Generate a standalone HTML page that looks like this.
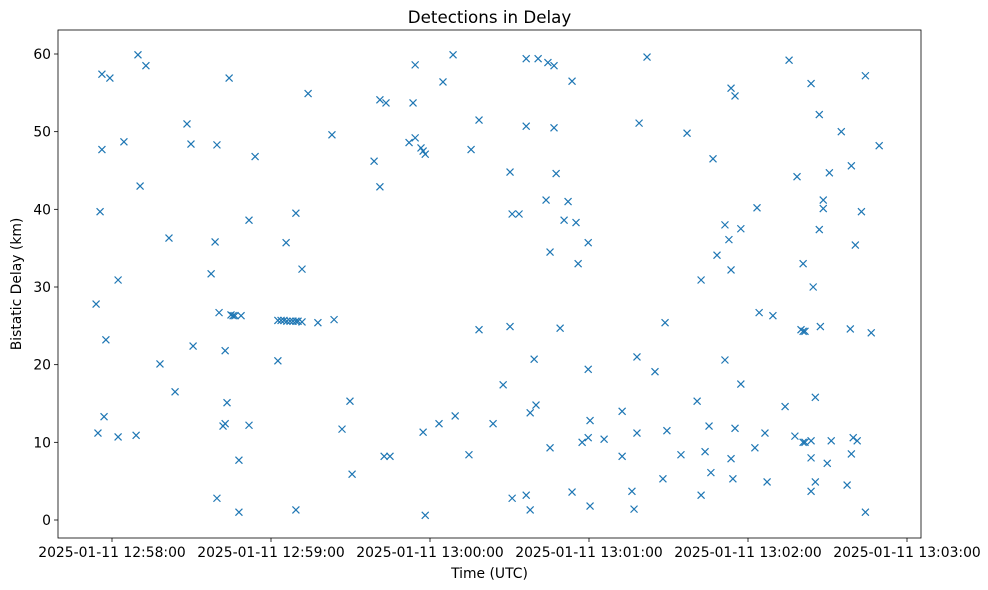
<!DOCTYPE html>
<html><head><meta charset="utf-8"><title>Detections in Delay</title>
<style>
html,body{margin:0;padding:0;background:#fff;}
svg{display:block;font-family:"DejaVu Sans","Liberation Sans",sans-serif;}
</style></head>
<body>
<svg id="chart" width="988" height="590" viewBox="0 0 988 590"></svg>
<script>
// seconds after 2025-01-11 12:58:00 UTC
const times = [-6.0,-5.3,-4.5,-3.8,-3.8,-3.0,-2.3,-0.8,2.3,2.3,4.5,9.1,9.8,10.6,12.8,18.1,21.5,23.8,28.3,29.8,30.6,37.4,38.9,39.6,39.6,40.4,41.9,42.7,42.7,43.4,44.2,44.9,45.7,46.4,47.9,47.9,48.7,51.7,51.7,54.0,62.6,
62.6,63.8,64.9,66.0,67.2,68.3,69.4,70.2,71.7,
65.7,69.4,69.4,71.7,74.0,77.7,83.0,83.8,86.8,89.8,90.6,98.9,101.1,101.1,103.4,102.7,104.9,112.1,113.6,114.4,114.4,116.6,117.4,118.2,117.4,118.2,123.4,124.9,129.5,128.7,134.7,135.5,138.5,138.5,143.8,147.6,150.2,150.2,151.0,151.0,153.6,156.3,156.3,156.3,157.8,157.8,159.3,160.0,160.8,163.8,164.5,165.3,165.3,166.8,166.8,167.6,169.1,170.6,172.1,173.6,173.6,175.1,175.9,177.4,179.7,179.7,179.7,180.4,180.4,185.7,192.5,192.5,196.2,197.0,198.1,198.1,198.9,201.9,204.9,207.9,208.7,209.4,214.7,217.0,220.8,222.3,222.3,223.8,225.3,226.0,226.8,228.3,231.3,231.3,232.8,233.6,233.6,233.6,234.3,235.1,235.1,237.3,237.3,242.6,243.4,244.2,246.4,247.2,249.4,254.0,255.5,257.7,258.5,260.0,260.8,261.5,260.8,260.8,261.5,263.8,263.8,264.6,263.8,263.8,265.4,265.4,266.9,266.9,267.3,268.4,268.4,269.9,270.7,271.4,275.2,277.4,278.6,279.0,279.0,279.7,280.5,281.2,282.8,284.3,284.3,286.5,289.5];
const delays = [27.8,11.2,39.7,47.7,57.4,13.3,23.2,56.9,10.7,30.9,48.7,10.9,59.9,43.0,58.5,20.1,36.3,16.5,51.0,48.4,22.4,31.7,35.8,48.3,2.8,26.7,12.1,12.4,21.8,15.1,56.9,26.4,26.3,26.3,7.7,1.0,26.3,38.6,12.2,46.8,20.5,
25.7,25.7,25.7,25.6,25.6,25.6,25.6,25.6,25.5,
35.7,39.5,1.3,32.3,54.9,25.4,49.6,25.8,11.7,15.3,5.9,46.2,54.1,42.9,53.7,8.2,8.2,48.6,53.7,58.6,49.2,47.9,47.5,47.1,11.3,0.6,12.4,56.4,13.4,59.9,8.4,47.7,51.5,24.5,12.4,17.4,44.8,24.9,39.4,2.8,39.4,59.4,50.7,3.2,1.3,13.8,20.7,14.8,59.4,41.2,58.9,34.5,9.3,58.5,50.5,44.6,24.7,38.6,41.0,56.5,3.6,38.3,33.0,10.0,35.7,19.4,10.6,12.8,1.8,10.4,14.0,8.2,3.7,1.4,21.0,11.2,51.1,59.6,19.1,5.3,25.4,11.5,8.4,49.8,15.3,30.9,3.2,8.8,12.1,6.1,46.5,34.1,38.0,20.6,36.1,55.6,32.2,7.9,5.3,54.6,11.8,37.5,17.5,9.3,40.2,26.7,11.2,4.9,26.3,14.6,59.2,10.8,44.2,24.5,24.3,24.3,33.0,10.0,10.0,10.2,56.2,30.0,8.0,3.7,15.8,4.9,52.2,37.4,24.9,41.2,40.1,7.3,44.7,10.2,50.0,4.5,24.6,45.6,8.5,10.6,35.4,10.2,39.7,57.2,1.0,24.1,48.2];
const xTickSecs = [0,60,120,180,240,300];
const xTickLabels = ["2025-01-11 12:58:00","2025-01-11 12:59:00","2025-01-11 13:00:00","2025-01-11 13:01:00","2025-01-11 13:02:00","2025-01-11 13:03:00"];
const yTicks = [0,10,20,30,40,50,60];

const NS="http://www.w3.org/2000/svg";
const svg=document.getElementById('chart');
const L=58,R=921,T=30,B=538;
const xs=t=>112+t*159/60;
const ys=v=>520-v*466/60;
function mk(tag,attrs,parent){const e=document.createElementNS(NS,tag);for(const k in attrs)e.setAttribute(k,attrs[k]);(parent||svg).appendChild(e);return e;}

const frame=mk('rect',{x:L,y:T,width:R-L,height:B-T,fill:'none',stroke:'#000','stroke-width':0.8});



const gx=mk('g',{});


xTickSecs.forEach((s,i)=>{
  const x=xs(s);
  mk('line',{x1:x,x2:x,y1:B,y2:B+4,stroke:'#000','stroke-width':0.8},gx);
  const t=mk('text',{x:x,y:B+19,'text-anchor':'middle','font-size':13.9,fill:'#000'},gx);
  t.textContent=xTickLabels[i];
  
  
});
const gy=mk('g',{});


yTicks.forEach(v=>{
  const y=ys(v);
  mk('line',{x1:L-4,x2:L,y1:y,y2:y,stroke:'#000','stroke-width':0.8},gy);
  const t=mk('text',{x:L-7,y:y+5,'text-anchor':'end','font-size':13.9,fill:'#000'},gy);
  t.textContent=String(v);
  
  
});

const title=mk('text',{x:(L+R)/2,y:23,'text-anchor':'middle','font-size':16.7,fill:'#000'});
title.textContent='Detections in Delay';


const xl=mk('text',{x:(L+R)/2,y:578,'text-anchor':'middle','font-size':13.9,fill:'#000'});
xl.textContent='Time (UTC)';


const yl=mk('text',{x:0,y:0,'text-anchor':'middle','font-size':13.9,fill:'#000',transform:'translate(21,'+((T+B)/2)+') rotate(-90)'});
yl.textContent='Bistatic Delay (km)';



const gp=mk('g',{stroke:'#1f77b4','stroke-width':1.2,fill:'none'});


const s=3.5;
times.forEach((t,i)=>{
  const x=xs(t),y=ys(delays[i]);
  const p=mk('path',{d:`M${x-s},${y-s}L${x+s},${y+s}M${x-s},${y+s}L${x+s},${y-s}`},gp);
  
  
});
</script>
</body></html>
